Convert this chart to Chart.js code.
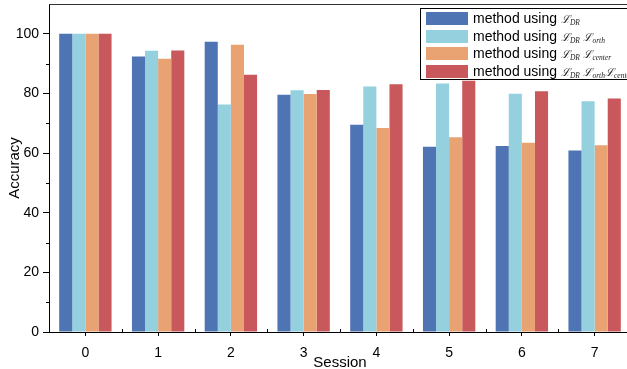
<!DOCTYPE html>
<html>
<head>
<meta charset="utf-8">
<script src="https://cdn.jsdelivr.net/npm/chart.js@4.4.0/dist/chart.umd.min.js"></script>
<style>
  html, body { margin: 0; padding: 0; background: #fff; overflow: hidden; }
  #wrap { position: relative; width: 631px; height: 369px; }
  #legend {
    position: absolute; left: 420px; top: 8px; width: 214px; height: 72px;
    border: 1px solid #000; background: #fff; box-sizing: border-box;
    font-family: "Liberation Sans", Arial, sans-serif; font-size: 14px; color: #000;
  }
  .item { position: absolute; left: 5px; height: 13px; white-space: nowrap; }
  .sw { position: absolute; left: 0; top: 0; width: 42px; height: 13px; }
  .txt { position: absolute; left: 47px; top: -2px; line-height: 16px; }
  .L { font-family: "DejaVu Serif", serif; font-style: italic; font-size: 11px; color: #222; }
  .L sub { font-family: "Liberation Serif", serif; font-size: 7.5px; vertical-align: -2px; }
</style>
</head>
<body>
<div id="wrap">
  <canvas id="accChart" width="631" height="369"></canvas>
  <div id="legend"></div>
</div>
<script>
const sessions = ['0', '1', '2', '3', '4', '5', '6', '7'];
const lossDR = [100, 92.4, 97.3, 79.6, 69.5, 62.1, 62.4, 60.9];
const lossDROrth = [100, 94.3, 76.3, 81.1, 82.3, 83.3, 79.9, 77.4];
const lossDRCenter = [100, 91.6, 96.3, 79.8, 68.4, 65.3, 63.5, 62.6];
const lossAll = [100, 94.4, 86.3, 81.2, 83.1, 84.3, 80.7, 78.3];
const yTicks = [0, 20, 40, 60, 80, 100];

const legendHtml = [
    'method using <span class="L">ℒ<sub>DR</sub></span>',
    'method using <span class="L">ℒ<sub>DR</sub> ℒ<sub>orth</sub></span>',
    'method using <span class="L">ℒ<sub>DR</sub> ℒ<sub>center</sub></span>',
    'method using <span class="L">ℒ<sub>DR</sub> ℒ<sub>orth</sub>ℒ<sub>center</sub></span>'
];

// minor ticks on y, boundary ticks on x, top frame line
const axisExtras = {
    id: 'axisExtras',
    afterDraw(chart) {
        const ctx = chart.ctx;
        const area = chart.chartArea;
        const x = chart.scales.x;
        const y = chart.scales.y;
        ctx.save();
        ctx.strokeStyle = '#000';
        ctx.lineWidth = 1;
        ctx.beginPath();
        for (let v = 10; v < 110; v += 20) {
            const py = Math.round(y.getPixelForValue(v)) + 0.5;
            ctx.moveTo(area.left - 3, py);
            ctx.lineTo(area.left, py);
        }
        const half = (x.getPixelForValue(1) - x.getPixelForValue(0)) / 2;
        for (let i = 0; i <= sessions.length; i++) {
            const px = Math.round(x.getPixelForValue(i) - half) + 0.5;
            ctx.moveTo(px, area.bottom);
            ctx.lineTo(px, area.bottom - 3);
        }
        ctx.stroke();
        ctx.strokeStyle = '#333';
        ctx.beginPath();
        ctx.moveTo(area.left, area.top + 0.5);
        ctx.lineTo(area.right, area.top + 0.5);
        ctx.stroke();
        ctx.restore();
    }
};

const chart = new Chart(document.getElementById('accChart'), {
    type: 'bar',
    data: {
        labels: sessions,
        datasets: [
            { label: 'DR', data: lossDR, backgroundColor: '#4f74b3' },
            { label: 'DR orth', data: lossDROrth, backgroundColor: '#95d0de' },
            { label: 'DR center', data: lossDRCenter, backgroundColor: '#e9a272' },
            { label: 'DR orth center', data: lossAll, backgroundColor: '#c8585c' }
        ]
    },
    options: {
        responsive: false,
        animation: false,
        layout: { padding: { top: 4, right: 0, left: 0, bottom: 0 } },
        datasets: { bar: { categoryPercentage: 0.72, barPercentage: 1.0 } },
        plugins: { legend: { display: false }, tooltip: { enabled: false } },
        scales: {
            x: {
                grid: { display: true, drawOnChartArea: false, offset: false, tickLength: 4, color: '#000' },
                border: { color: '#000', width: 1 },
                ticks: { color: '#000', font: { family: 'Liberation Sans', size: 14 }, padding: 9, maxRotation: 0 },
                title: { display: true, text: 'Session', color: '#000', font: { family: 'Liberation Sans', size: 15 }, padding: { top: 0, bottom: -3 } },
                afterFit(scale) { scale.height = 37; scale.paddingLeft = 0; scale.paddingRight = 0; }
            },
            y: {
                min: 0,
                max: 110,
                afterBuildTicks(scale) { scale.ticks = yTicks.map(v => ({ value: v })); },
                grid: { display: true, drawOnChartArea: false, tickLength: 6, color: '#000' },
                border: { color: '#000', width: 1 },
                ticks: { color: '#000', font: { family: 'Liberation Sans', size: 14 }, padding: 4 },
                title: { display: true, text: 'Accuracy', color: '#000', font: { family: 'Liberation Sans', size: 15 }, padding: 6 },
                afterFit(scale) { scale.width = 49; scale.paddingTop = 0; scale.paddingBottom = 0; }
            }
        }
    },
    plugins: [axisExtras]
});

const legendBox = document.getElementById('legend');
chart.data.datasets.forEach((ds, i) => {
    const item = document.createElement('div');
    item.className = 'item';
    item.style.top = (3 + i * 17.6) + 'px';
    item.innerHTML = '<div class="sw" style="background:' + ds.backgroundColor + '"></div><div class="txt">' + legendHtml[i] + '</div>';
    legendBox.appendChild(item);
});
</script>
</body>
</html>
